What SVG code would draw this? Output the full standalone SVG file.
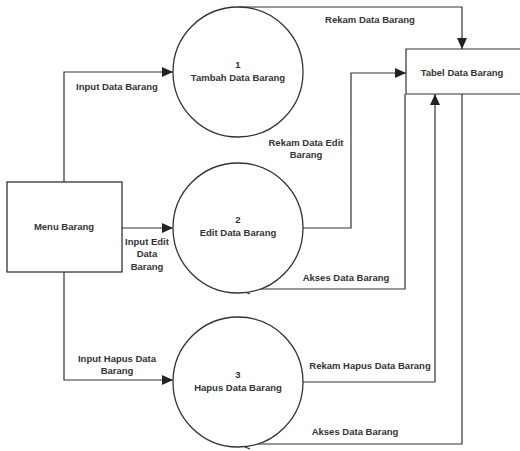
<svg xmlns="http://www.w3.org/2000/svg" width="520" height="451" viewBox="0 0 520 451">
<style>
.n{fill:#fff;stroke:#333;stroke-width:1.3}
.c{fill:none;stroke:#333;stroke-width:1.2}
text{font-family:"Liberation Sans",Arial,sans-serif;font-weight:bold;font-size:9.5px;fill:#333;text-anchor:middle}
</style>
<defs>
<marker id="a" markerUnits="userSpaceOnUse" markerWidth="12" markerHeight="10" refX="11" refY="5" orient="auto"><path d="M0,0 L11,5 L0,10 Z" fill="#222"/></marker>
<marker id="o" markerUnits="userSpaceOnUse" markerWidth="14" markerHeight="12" refX="13" refY="6" orient="auto"><path d="M1,1 L13,6 L1,11" fill="none" stroke="#333" stroke-width="1.2"/></marker>
</defs>
<g id="connectors">
<path class="c" d="M64,182 V72 H173" marker-end="url(#a)"/>
<path class="c" d="M238,7 H462 V49" marker-end="url(#a)"/>
<path class="c" d="M302,228 H351 V73 H406" marker-end="url(#a)"/>
<path class="c" d="M122,228 H173" marker-end="url(#a)"/>
<path class="c" d="M405,94 V289 H238" marker-end="url(#o)"/>
<path class="c" d="M302,382 H435 V94" marker-end="url(#a)"/>
<path class="c" d="M462,94 V444 H238" marker-end="url(#o)"/>
<path class="c" d="M64,272 V380 H173" marker-end="url(#a)"/>
<text x="117" y="90">Input Data Barang</text>
<text x="370" y="23">Rekam Data Barang</text>
<text x="306" y="146">Rekam Data Edit</text>
<text x="306" y="158">Barang</text>
<text x="147" y="245">Input Edit</text>
<text x="147" y="257">Data</text>
<text x="147" y="270">Barang</text>
<text x="346" y="281">Akses Data Barang</text>
<text x="370" y="369">Rekam Hapus Data Barang</text>
<text x="355" y="435">Akses Data Barang</text>
<text x="117" y="362">Input Hapus Data</text>
<text x="117" y="374">Barang</text>
</g>
<g id="menu">
<rect class="n" x="7" y="182" width="115" height="90"/>
<text x="64" y="230">Menu Barang</text>
</g>
<g id="tabel">
<rect x="406" y="49" width="120" height="45" fill="#fff"/>
<path class="c" d="M520,49 H406 V94 H520"/>
<text x="462" y="76">Tabel Data Barang</text>
</g>
<g id="p1">
<circle class="n" cx="238" cy="72" r="65"/>
<text x="238" y="68">1</text>
<text x="238" y="81">Tambah Data Barang</text>
</g>
<g id="p2">
<circle class="n" cx="238" cy="228" r="65"/>
<text x="238" y="223">2</text>
<text x="238" y="236">Edit Data Barang</text>
</g>
<g id="p3">
<circle class="n" cx="238" cy="382" r="65"/>
<text x="238" y="378">3</text>
<text x="238" y="391">Hapus Data Barang</text>
</g>
</svg>
